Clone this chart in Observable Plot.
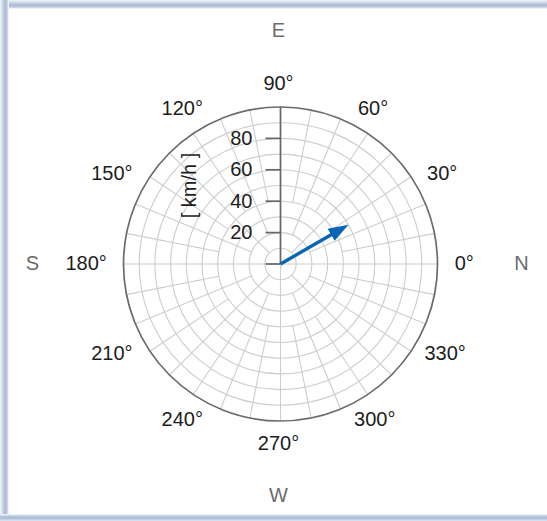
<!DOCTYPE html>
<html>
<head>
<meta charset="utf-8">
<script src="https://cdn.jsdelivr.net/npm/d3@7"></script>
<script src="https://cdn.jsdelivr.net/npm/@observablehq/plot@0.6"></script>
<style>
html, body { margin: 0; padding: 0; background: #fff; width: 547px; height: 521px; overflow: hidden; }
#chart { position: absolute; left: 0; top: 0; }
.bd { position: absolute; pointer-events: none; }
#bt { left: 0; top: 0; width: 547px; height: 9px; background: linear-gradient(to bottom, #f1f4f9 0px, #d6dfec 2px, #a9bad6 5px, #bccae0 7px, #ffffff 9px); }
#bl { left: 0; top: 0; width: 9px; height: 521px; background: linear-gradient(to right, #f1f4f9 0px, #d6dfec 2px, #a9bad6 5px, #bccae0 7px, #ffffff 9px); }
#bb { left: 0; top: 514px; width: 547px; height: 7px; background: linear-gradient(to bottom, #ffffff 0px, #bccae0 2px, #a9bad6 4px, #dfe6f0 7px); }
</style>
</head>
<body>
<div id="chart"></div>
<div class="bd" id="bt"></div>
<div class="bd" id="bl"></div>
<div class="bd" id="bb"></div>
<script>
// ---- data ----
const windSpeed = [50];          // km/h
const windDirection = [30];      // degrees (0° = N on the right, counter-clockwise)
const angleTicks = [0, 30, 60, 90, 120, 150, 180, 210, 240, 270, 300, 330];
const angleTickLabels = ["0°", "30°", "60°", "90°", "120°", "150°", "180°", "210°", "240°", "270°", "300°", "330°"];
const radialTicks = [0, 20, 40, 60, 80];
const radialTickLabels = ["", "20", "40", "60", "80"];
const compassLabels = ["N", "E", "S", "W"];
const compassAngles = [0, 90, 180, 270];
const radialUnit = "[ km/h ]";
const rMax = 100;
const gridStep = 10;

// ---- geometry helpers ----
const W = 547, H = 521;
const cx = 280, cy = 263.5, Rpx = 157;
const pxPerUnit = Rpx / rMax;
const rad = a => a * Math.PI / 180;
const px = u => u / pxPerUnit; // pixel length -> data units
const fontPx = 20;

// grid circles
const gridRadii = d3.range(gridStep, rMax, gridStep);
// spokes: density grows with radius
const spokes = d3.range(0, 360, 11.25).map(a => ({
  a,
  r0: a % 90 === 0 ? 0 : a % 45 === 0 ? 10 : a % 22.5 === 0 ? 20 : 40
})).filter(d => d.a !== 90);

const wind = windSpeed.map((s, i) => ({s, a: windDirection[i]}));
const headLen = 20, headHalf = 7;
const arrowHead = {
  draw(context) {
    context.moveTo(0, 0);
    context.lineTo(-headHalf, headLen);
    context.lineTo(headHalf, headLen);
    context.closePath();
  }
};

const angleData = angleTicks.map((a, i) => {
  const t = angleTickLabels[i];
  const hw = ((t.length - 1) * 0.556 + 0.4) * fontPx / 2;
  const c = Math.cos(rad(a)), s = Math.sin(rad(a));
  return {a, t, x: px(c * (180 + 0.6 * hw)), y: px(s * 180)};
});

const compassData = compassLabels.map((t, i) => ({t, a: compassAngles[i]}));

const gridColor = "#cdcdcd";
const font = "'Liberation Sans', Arial, sans-serif";
const textColor = "#1c1c1c";
const compassColor = "#6b6b6b";

const chart = Plot.plot({
  width: W,
  height: H,
  margin: 0,
  style: {fontFamily: font, fontSize: fontPx + "px", background: "transparent"},
  x: {domain: [-rMax, rMax], range: [cx - Rpx, cx + Rpx], axis: null},
  y: {domain: [-rMax, rMax], range: [cy + Rpx, cy - Rpx], axis: null},
  r: {type: "linear", domain: [0, rMax], range: [0, Rpx]},
  marks: [
    // concentric grid circles
    Plot.dot(gridRadii, {x: () => 0, y: () => 0, r: d => d, fill: "none", stroke: gridColor, strokeWidth: 1.1}),
    // spokes
    Plot.link(spokes, {
      x1: d => d.r0 * Math.cos(rad(d.a)), y1: d => d.r0 * Math.sin(rad(d.a)),
      x2: d => rMax * Math.cos(rad(d.a)), y2: d => rMax * Math.sin(rad(d.a)),
      stroke: gridColor, strokeWidth: 1.1
    }),
    // outer circle
    Plot.dot([rMax], {x: () => 0, y: () => 0, r: d => d, fill: "none", stroke: "#6a6a6a", strokeWidth: 1.7}),
    // radial axis
    Plot.link([rMax], {x1: () => 0, y1: () => 0, x2: () => 0, y2: d => d, stroke: "#666", strokeWidth: 1.7}),
    Plot.link(radialTicks, {x1: () => 0, y1: d => d, x2: () => -px(15), y2: d => d, stroke: "#666", strokeWidth: 1.7}),
    Plot.text(radialTicks, {x: () => 0, y: d => d, text: (d, i) => radialTickLabels[i], textAnchor: "end", dx: -28, fill: textColor}),
    Plot.text([radialUnit], {x: () => 0, y: () => rMax / 2, text: d => d, rotate: -90, dx: -91, fill: textColor}),
    // angle labels
    Plot.text(angleData, {x: "x", y: "y", text: "t", dx: -2, fill: textColor}),
    // compass labels, anchored to the panel edges
    Plot.text(compassData.filter(d => d.a === 90), {x: () => 0, text: "t", frameAnchor: "top", lineAnchor: "middle", textAnchor: "middle", dy: 30, dx: -2, fill: compassColor}),
    Plot.text(compassData.filter(d => d.a === 270), {x: () => 0, text: "t", frameAnchor: "bottom", lineAnchor: "middle", textAnchor: "middle", dy: -25.5, dx: -2, fill: compassColor}),
    Plot.text(compassData.filter(d => d.a === 180), {y: () => 0, text: "t", frameAnchor: "left", lineAnchor: "middle", textAnchor: "middle", dx: 32, fill: compassColor}),
    Plot.text(compassData.filter(d => d.a === 0), {y: () => 0, text: "t", frameAnchor: "right", lineAnchor: "middle", textAnchor: "middle", dx: -26, fill: compassColor}),
    // wind arrow
    Plot.link(wind, {
      x1: () => 0, y1: () => 0,
      x2: d => (d.s - px(headLen - 4)) * Math.cos(rad(d.a)),
      y2: d => (d.s - px(headLen - 4)) * Math.sin(rad(d.a)),
      stroke: "#0a66b5", strokeWidth: 3.4
    }),
    Plot.dot(wind, {
      x: d => d.s * Math.cos(rad(d.a)), y: d => d.s * Math.sin(rad(d.a)),
      symbol: arrowHead, r: 5, rotate: d => 90 - d.a,
      fill: "#0a66b5", stroke: "none"
    })
  ]
});
document.getElementById("chart").appendChild(chart);
</script>
</body>
</html>
